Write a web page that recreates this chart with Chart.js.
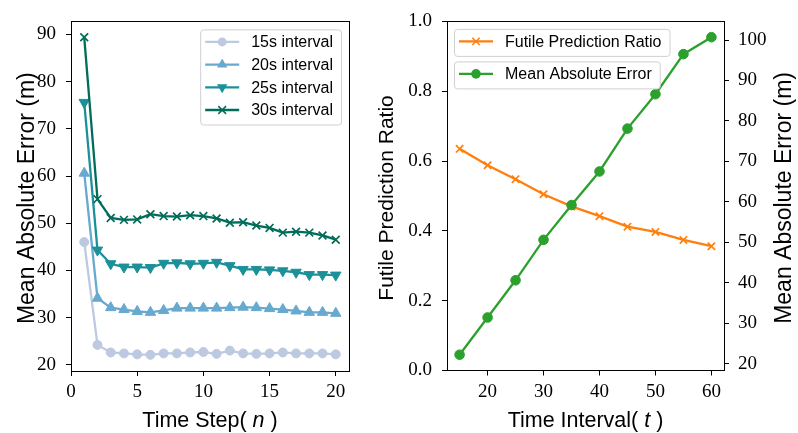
<!DOCTYPE html>
<html lang="en">
<head>
  <meta charset="UTF-8" />
  <title>MAE vs time step / interval</title>
  <style>
    html, body {
      margin: 0;
      padding: 0;
      background: #fff;
    }
    body {
      width: 798px;
      height: 433px;
      position: relative;
      overflow: hidden;
    }
    #left-wrap {
      position: absolute;
      left: 0;
      top: 0;
      width: 360px;
      height: 433px;
    }
    #right-wrap {
      position: absolute;
      left: 360px;
      top: 0;
      width: 438px;
      height: 433px;
    }
  </style>
</head>
<body>

<div id="left-wrap"><canvas id="chart-left"></canvas></div>
<div id="right-wrap"><canvas id="chart-right"></canvas></div>

<script src="https://cdn.jsdelivr.net/npm/chart.js"></script>
<script>
  // left panel: MAE per time step
  const steps = [1, 2, 3, 4, 5, 6, 7, 8, 9, 10, 11, 12, 13, 14, 15, 16, 17, 18, 19, 20];
  const mae15s = [46.0, 24.2, 22.6, 22.4, 22.2, 22.1, 22.4, 22.4, 22.6, 22.7, 22.3, 23.0, 22.4, 22.3, 22.4, 22.6, 22.4, 22.4, 22.4, 22.2];
  const mae20s = [60.6, 34.1, 32.1, 31.7, 31.3, 31.1, 31.5, 32.0, 32.0, 32.0, 32.0, 32.1, 32.2, 32.1, 31.9, 31.7, 31.4, 31.1, 31.1, 30.9];
  const mae25s = [75.6, 44.3, 41.4, 40.7, 40.7, 40.6, 41.5, 41.6, 41.4, 41.5, 41.7, 41.0, 40.2, 40.2, 40.1, 39.9, 39.6, 39.1, 39.1, 39.0];
  const mae30s = [89.4, 55.1, 51.1, 50.7, 50.8, 51.9, 51.5, 51.4, 51.7, 51.5, 51.0, 50.1, 50.2, 49.5, 49.0, 48.0, 48.2, 48.0, 47.4, 46.5];
  const stepTicks = [0, 5, 10, 15, 20];
  const maeTicksLeft = [20, 30, 40, 50, 60, 70, 80, 90];

  // right panel: futile ratio + MAE per interval
  const intervals = [15, 20, 25, 30, 35, 40, 45, 50, 55, 60];
  const futileRatio = [0.635, 0.588, 0.548, 0.505, 0.470, 0.442, 0.412, 0.397, 0.374, 0.356];
  const maeByInterval = [22.2, 31.4, 40.6, 50.6, 59.2, 67.5, 78.1, 86.6, 96.5, 100.7];
  const intervalTicks = [20, 30, 40, 50, 60];
  const ratioTicks = [0, 0.2, 0.4, 0.6, 0.8, 1.0];
  const maeTicksRight = [20, 30, 40, 50, 60, 70, 80, 90, 100];

  const tickFont = { family: "'Liberation Serif', 'DejaVu Serif', serif", size: 19 };
  const sansFont = "'Liberation Sans', Arial, sans-serif";

  function toPoints(xs, ys) {
    return xs.map((x, i) => ({ x: x, y: ys[i] }));
  }

  function fixedTicks(values) {
    return function(scale) {
      scale.ticks = values.map(v => ({ value: v }));
    };
  }

  function axisGrid() {
    return {
      display: true,
      drawOnChartArea: false,
      drawTicks: true,
      tickLength: 5,
      tickWidth: 1,
      tickColor: '#000'
    };
  }

  function drawMarker(ctx, style, x, y, r, color, rot) {
    ctx.save();
    ctx.translate(x, y);
    if (rot) ctx.rotate(rot * Math.PI / 180);
    ctx.fillStyle = color;
    ctx.strokeStyle = color;
    ctx.lineWidth = 1.5;
    ctx.beginPath();
    if (style === 'circle') {
      ctx.arc(0, 0, r, 0, Math.PI * 2);
      ctx.fill();
    } else if (style === 'triangle') {
      ctx.moveTo(0, -r);
      ctx.lineTo(r * 0.866, r * 0.5);
      ctx.lineTo(-r * 0.866, r * 0.5);
      ctx.closePath();
      ctx.fill();
    } else {
      const d = r * 0.7071;
      ctx.moveTo(-d, -d); ctx.lineTo(d, d);
      ctx.moveTo(d, -d); ctx.lineTo(-d, d);
      ctx.stroke();
    }
    ctx.restore();
  }

  function drawParts(ctx, parts, size) {
    let w = 0;
    parts.forEach(p => {
      ctx.font = (p.italic ? 'italic ' : '') + size + 'px ' + sansFont;
      w += ctx.measureText(p.text).width;
    });
    let x = -w / 2;
    parts.forEach(p => {
      ctx.font = (p.italic ? 'italic ' : '') + size + 'px ' + sansFont;
      ctx.fillText(p.text, x, 0);
      x += ctx.measureText(p.text).width;
    });
  }

  function drawLegendBox(ctx, items, left, top, anchorRight) {
    const rowH = 22.7, padTop = 12.5, padBottom = 14.5;
    ctx.font = '16px ' + sansFont;
    const textW = Math.max(...items.map(it => ctx.measureText(it.label).width));
    const w = 5 + 34 + 12 + textW + 8;
    const h = padTop + padBottom + rowH * (items.length - 1);
    const x0 = anchorRight ? left - w : left;
    ctx.save();
    ctx.beginPath();
    ctx.roundRect(x0 + 0.5, top + 0.5, w, h, 3);
    ctx.fillStyle = 'rgba(255,255,255,0.8)';
    ctx.fill();
    ctx.strokeStyle = '#d0d0d0';
    ctx.lineWidth = 1;
    ctx.stroke();
    items.forEach((it, i) => {
      const y = top + padTop + i * rowH;
      ctx.beginPath();
      ctx.moveTo(x0 + 5, y);
      ctx.lineTo(x0 + 39, y);
      ctx.strokeStyle = it.color;
      ctx.lineWidth = it.width;
      ctx.stroke();
      drawMarker(ctx, it.pointStyle, x0 + 22, y, it.radius, it.color, it.rotation);
      ctx.fillStyle = '#000';
      ctx.font = '16px ' + sansFont;
      ctx.textBaseline = 'middle';
      ctx.textAlign = 'left';
      ctx.fillText(it.label, x0 + 51, y + 1);
    });
    ctx.restore();
  }

  function legendItem(ds) {
    return {
      label: ds.label,
      color: ds.borderColor,
      width: ds.borderWidth,
      pointStyle: ds.pointStyle,
      radius: ds.pointRadius,
      rotation: ds.pointRotation || 0
    };
  }

  // frame, axis titles and in-plot legends
  const decor = {
    id: 'decor',
    afterDraw(chart, args, opts) {
      const ctx = chart.ctx;
      const a = chart.chartArea;
      ctx.save();
      ctx.strokeStyle = '#000';
      ctx.lineWidth = 1;
      ctx.strokeRect(Math.round(a.left) + 0.5, Math.round(a.top) + 0.5,
        Math.round(a.right - a.left), Math.round(a.bottom - a.top));

      ctx.fillStyle = '#000';
      ctx.textBaseline = 'alphabetic';
      ctx.textAlign = 'left';
      (opts.titles || []).forEach(t => {
        ctx.save();
        if (t.axis === 'x') {
          ctx.translate((a.left + a.right) / 2, t.pos);
        } else {
          ctx.translate(t.pos, (a.top + a.bottom) / 2 + 2);
          ctx.rotate(-Math.PI / 2);
        }
        drawParts(ctx, t.parts, t.size);
        ctx.restore();
      });

      (opts.legends || []).forEach(lg => {
        const items = lg.datasets.map(i => legendItem(chart.data.datasets[i]));
        if (lg.anchor === 'right') {
          drawLegendBox(ctx, items, a.right - lg.dx, a.top + lg.dy, true);
        } else {
          drawLegendBox(ctx, items, a.left + lg.dx, a.top + lg.dy, false);
        }
      });
      ctx.restore();
    }
  };

  function lineSet(label, xs, ys, color, style, radius, extra) {
    return Object.assign({
      label: label,
      data: toPoints(xs, ys),
      borderColor: color,
      backgroundColor: color,
      pointBackgroundColor: color,
      pointBorderColor: color,
      borderWidth: 2.3,
      pointStyle: style,
      pointRadius: radius,
      pointBorderWidth: style === 'crossRot' ? 1.7 : 1,
      tension: 0,
      fill: false
    }, extra || {});
  }

  new Chart(document.getElementById('chart-left'), {
    type: 'line',
    data: {
      datasets: [
        lineSet('30s interval', steps, mae30s, '#016c59', 'crossRot', 5.5),
        lineSet('25s interval', steps, mae25s, '#1c9099', 'triangle', 6, { pointRotation: 180 }),
        lineSet('20s interval', steps, mae20s, '#67a9cf', 'triangle', 6),
        lineSet('15s interval', steps, mae15s, '#bdc9e1', 'circle', 4.5)
      ]
    },
    options: {
      responsive: true,
      maintainAspectRatio: false,
      animation: false,
      layout: { padding: { top: 15, right: 11, left: 0, bottom: 0 } },
      plugins: {
        legend: { display: false },
        tooltip: { enabled: false },
        decor: {
          titles: [
            { axis: 'x', pos: 427, size: 21.5, parts: [{ text: 'Time Step( ' }, { text: 'n', italic: true }, { text: ' )' }] },
            { axis: 'y', pos: 33.5, size: 23, parts: [{ text: 'Mean Absolute Error (m)' }] }
          ],
          legends: [{ anchor: 'right', dx: 8, dy: 8, datasets: [3, 2, 1, 0] }]
        }
      },
      scales: {
        x: {
          type: 'linear',
          min: 0,
          max: 21,
          afterBuildTicks: fixedTicks(stepTicks),
          afterFit: s => { s.height = 62; },
          ticks: { font: tickFont, color: '#000', padding: 5, maxRotation: 0 },
          grid: axisGrid(),
          border: { display: false }
        },
        y: {
          min: 18.67,
          max: 92.77,
          afterBuildTicks: fixedTicks(maeTicksLeft),
          afterFit: s => { s.width = 71; },
          ticks: { font: tickFont, color: '#000', padding: 10 },
          grid: axisGrid(),
          border: { display: false }
        }
      }
    },
    plugins: [decor]
  });

  new Chart(document.getElementById('chart-right'), {
    type: 'line',
    data: {
      datasets: [
        lineSet('Mean Absolute Error', intervals, maeByInterval, '#2ca02c', 'circle', 4.8, { yAxisID: 'y1' }),
        lineSet('Futile Prediction Ratio', intervals, futileRatio, '#ff7f0e', 'crossRot', 5.2, { yAxisID: 'y' })
      ]
    },
    options: {
      responsive: true,
      maintainAspectRatio: false,
      animation: false,
      layout: { padding: { top: 15, right: 0, left: 0, bottom: 0 } },
      plugins: {
        legend: { display: false },
        tooltip: { enabled: false },
        decor: {
          titles: [
            { axis: 'x', pos: 427, size: 21.5, parts: [{ text: 'Time Interval( ' }, { text: 't', italic: true }, { text: ' )' }] },
            { axis: 'y', pos: 33.3, size: 21, parts: [{ text: 'Futile Prediction Ratio' }] },
            { axis: 'y', pos: 431, size: 23, parts: [{ text: 'Mean Absolute Error (m)' }] }
          ],
          legends: [
            { anchor: 'left', dx: 7, dy: 7.5, datasets: [1] },
            { anchor: 'left', dx: 7, dy: 40, datasets: [0] }
          ]
        }
      },
      scales: {
        x: {
          type: 'linear',
          min: 12.75,
          max: 62.25,
          afterBuildTicks: fixedTicks(intervalTicks),
          afterFit: s => { s.height = 62.5; },
          ticks: { font: tickFont, color: '#000', padding: 5, maxRotation: 0 },
          grid: axisGrid(),
          border: { display: false }
        },
        y: {
          position: 'left',
          min: 0,
          max: 1,
          afterBuildTicks: fixedTicks(ratioTicks),
          afterFit: s => { s.width = 87; },
          ticks: { font: tickFont, color: '#000', padding: 10, callback: v => v.toFixed(1) },
          grid: axisGrid(),
          border: { display: false }
        },
        y1: {
          position: 'right',
          min: 18.3,
          max: 104.6,
          afterBuildTicks: fixedTicks(maeTicksRight),
          afterFit: s => { s.width = 74; },
          ticks: { font: tickFont, color: '#000', padding: 9 },
          grid: axisGrid(),
          border: { display: false }
        }
      }
    },
    plugins: [decor]
  });
</script>
</body>
</html>
